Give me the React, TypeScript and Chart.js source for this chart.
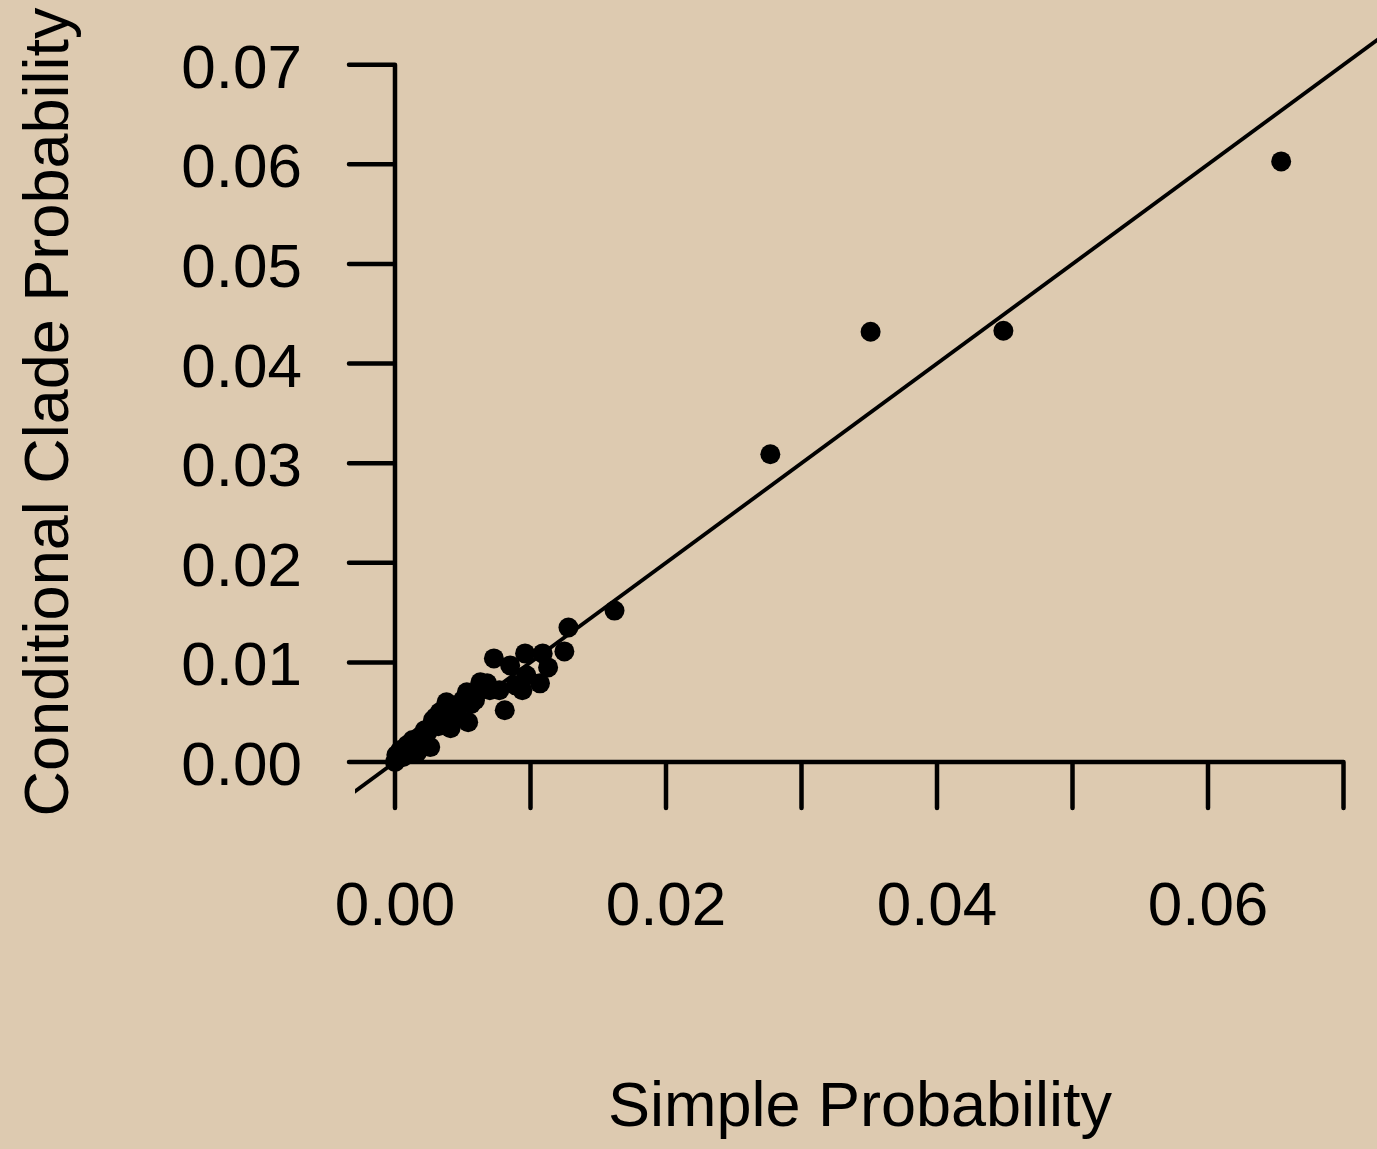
import React, { useEffect, useRef } from "react";
import { Chart, registerables } from "chart.js";

Chart.register(...registerables);

// Clade probabilities: simple (x) vs conditional (y)
const simpleProb = [
  0.0654, 0.0449, 0.0351, 0.0277, 0.0162, 0.0128, 0.0125, 0.0073, 0.0096, 0.0109,
  0.0113, 0.0107, 0.0094, 0.0085, 0.0097, 0.0081, 0.0063, 0.0053, 0.007, 0.0038,
  0.0054, 0.0068, 0.0041, 0.0028, 0.002, 0.0009, 0.0001, 0.0, 0.0013, 0.0026,
  0.0004, 0.0033, 0.0059, 0.0077, 0.0089, 0.0017, 0.0007, 0.0022, 0.0048, 0.0045,
  0.0035, 0.0012, 0.0003, 0.0016, 0.003, 0.0043, 0.005, 0.006, 0.0066, 0.001,
  0.0018, 0.0024, 0.0032, 0.0038, 0.0056, 0.0015, 0.0006,
];
const cladeProb = [
  0.0603, 0.0433, 0.0432, 0.0309, 0.0152, 0.0135, 0.0111, 0.0104, 0.0109, 0.0109,
  0.0095, 0.0079, 0.0072, 0.0097, 0.0087, 0.0052, 0.008, 0.007, 0.0072, 0.006,
  0.004, 0.0079, 0.0034, 0.0042, 0.0027, 0.0017, 0.0007, 0.0, 0.0022, 0.0015,
  0.0012, 0.005, 0.0062, 0.0072, 0.0077, 0.002, 0.001, 0.0032, 0.0057, 0.0046,
  0.0038, 0.0014, 0.0004, 0.0009, 0.0045, 0.0053, 0.0062, 0.0068, 0.0075, 0.0012,
  0.0025, 0.003, 0.0036, 0.0044, 0.0058, 0.0018, 0.0005,
];

// Reference line y = x
const refLineX = [-0.01, 0.09];

// Axis ticks (R style: some x labels dropped)
const yTicks = [0, 0.01, 0.02, 0.03, 0.04, 0.05, 0.06, 0.07];
const yTickLabels = ["0.00", "0.01", "0.02", "0.03", "0.04", "0.05", "0.06", "0.07"];
const xTicks = [0, 0.01, 0.02, 0.03, 0.04, 0.05, 0.06, 0.07];
const xTickLabels = ["0.00", "", "0.02", "", "0.04", "", "0.06", ""];

const xTitle = "Simple Probability";
const yTitle = "Conditional Clade Probability";

const FONT = "62px 'Liberation Sans', Arial, Helvetica, sans-serif";
const TITLE_FONT = "63px 'Liberation Sans', Arial, Helvetica, sans-serif";
const INK = "#000000";
const PAPER = "#ddcab0";

const axesPlugin = {
  id: "rAxes",
  beforeDatasetsDraw(chart: any) {
    const ctx = chart.ctx as CanvasRenderingContext2D;
    const xs = chart.scales.x;
    const ys = chart.scales.y;
    const x0 = xs.getPixelForValue(0);
    const y0 = ys.getPixelForValue(0);
    const tickLen = 46;

    ctx.save();
    ctx.strokeStyle = INK;
    ctx.fillStyle = INK;
    ctx.lineWidth = 4.5;
    ctx.lineCap = "round";

    // y axis
    ctx.beginPath();
    ctx.moveTo(x0, ys.getPixelForValue(yTicks[0]));
    ctx.lineTo(x0, ys.getPixelForValue(yTicks[yTicks.length - 1]));
    yTicks.forEach((t) => {
      const py = ys.getPixelForValue(t);
      ctx.moveTo(x0, py);
      ctx.lineTo(x0 - tickLen, py);
    });
    ctx.stroke();

    // x axis
    ctx.beginPath();
    ctx.moveTo(xs.getPixelForValue(xTicks[0]), y0);
    ctx.lineTo(xs.getPixelForValue(xTicks[xTicks.length - 1]), y0);
    xTicks.forEach((t) => {
      const px = xs.getPixelForValue(t);
      ctx.moveTo(px, y0);
      ctx.lineTo(px, y0 + tickLen);
    });
    ctx.stroke();

    ctx.font = FONT;
    ctx.textBaseline = "alphabetic";

    // y tick labels
    ctx.textAlign = "right";
    yTicks.forEach((t, i) => {
      ctx.fillText(yTickLabels[i], x0 - 93, ys.getPixelForValue(t) + 23);
    });

    // x tick labels
    ctx.textAlign = "center";
    xTicks.forEach((t, i) => {
      if (xTickLabels[i]) ctx.fillText(xTickLabels[i], xs.getPixelForValue(t), y0 + 163);
    });

    // axis titles
    ctx.font = TITLE_FONT;
    ctx.fillText(xTitle, 860, 1126);
    ctx.save();
    ctx.translate(68, 412);
    ctx.rotate(-Math.PI / 2);
    ctx.fillText(yTitle, 0, 0);
    ctx.restore();

    ctx.restore();
  },
};

export default function App() {
  const canvasRef = useRef<HTMLCanvasElement | null>(null);

  useEffect(() => {
    document.body.style.margin = "0";
    document.body.style.background = PAPER;
    const canvas = canvasRef.current;
    if (!canvas) return;

    const chart = new Chart(canvas, {
      type: "scatter",
      data: {
        datasets: [
          {
            type: "line",
            data: refLineX.map((v) => ({ x: v, y: v })),
            borderColor: INK,
            borderWidth: 3.8,
            pointRadius: 0,
            fill: false,
            order: 2,
          } as any,
          {
            type: "scatter",
            data: simpleProb.map((x, i) => ({ x, y: cladeProb[i] })),
            backgroundColor: INK,
            borderColor: INK,
            borderWidth: 0,
            pointRadius: 10,
            order: 1,
          },
        ],
      },
      options: {
        animation: false,
        responsive: false,
        devicePixelRatio: 1,
        layout: {
          autoPadding: false,
          padding: { left: 355, right: 0, top: 30, bottom: 341 },
        },
        plugins: {
          legend: { display: false },
          tooltip: { enabled: false },
        },
        scales: {
          x: { type: "linear", min: -0.002952, max: 0.072472, display: false },
          y: { type: "linear", min: -0.004618, max: 0.07349, display: false },
        },
      },
      plugins: [axesPlugin],
    });

    return () => chart.destroy();
  }, []);

  return (
    <div
      style={{
        position: "absolute",
        left: 0,
        top: 0,
        width: 1377,
        height: 1149,
        background: PAPER,
      }}
    >
      <canvas ref={canvasRef} width={1377} height={1149} style={{ display: "block" }} />
    </div>
  );
}
